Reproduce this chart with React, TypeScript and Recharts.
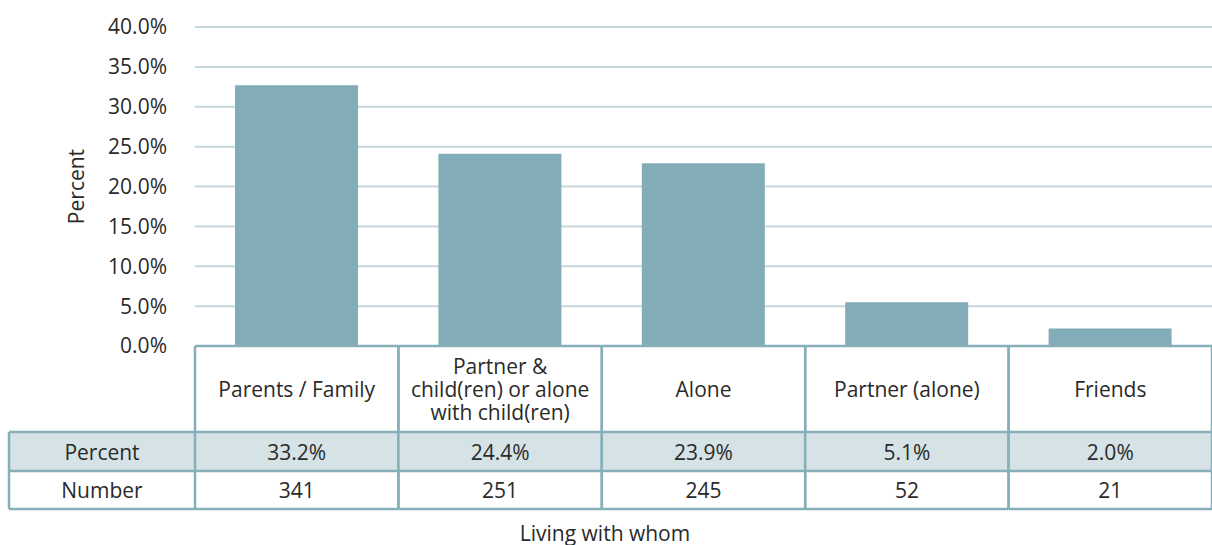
import React from 'react';
import { BarChart, Bar, XAxis, YAxis, CartesianGrid } from 'recharts';

const categories = ['Parents / Family', 'Partner &|child(ren) or alone|with child(ren)', 'Alone', 'Partner (alone)', 'Friends'];
const barValues = [32.7, 24.1, 22.9, 5.5, 2.2];
const percentLabels = ['33.2%', '24.4%', '23.9%', '5.1%', '2.0%'];
const numberLabels = ['341', '251', '245', '52', '21'];
const rowLabels = ['Percent', 'Number'];
const yTicks = [0, 5, 10, 15, 20, 25, 30, 35, 40];

const data = categories.map((c, i) => ({ name: c, value: barValues[i], idx: i }));

const W = 1212;
const H = 545;
const ML = 195;
const COL_W = (W - ML) / categories.length;
const ROW1 = 86;
const ROW2 = 39;
const ROW3 = 38;
const BORDER = '#86afba';
const SHADE = '#d5e2e6';
const TEXT = '#2a2a2a';
const FONT = '"Open Sans", sans-serif';
const FS = 21;

const TableTick = (props: any) => {
  const { x, y, payload } = props;
  const i = payload.index;
  const left = x - COL_W / 2;
  const right = x + COL_W / 2;
  const lines = String(payload.value).split('|');
  const r1c = y + ROW1 / 2;
  const lh = 23;
  return (
    <g>
      <rect x={left} y={y + ROW1} width={COL_W} height={ROW2} fill={SHADE} />
      <line x1={left} x2={right} y1={y} y2={y} stroke={BORDER} strokeWidth={2.5} />
      <line x1={left} x2={right} y1={y + ROW1} y2={y + ROW1} stroke={BORDER} strokeWidth={2.5} />
      <line x1={left} x2={right} y1={y + ROW1 + ROW2} y2={y + ROW1 + ROW2} stroke={BORDER} strokeWidth={2.5} />
      <line x1={left} x2={right} y1={y + ROW1 + ROW2 + ROW3} y2={y + ROW1 + ROW2 + ROW3} stroke={BORDER} strokeWidth={2.5} />
      <line x1={left} x2={left} y1={y} y2={y + ROW1 + ROW2 + ROW3} stroke={BORDER} strokeWidth={2.5} />
      <line x1={right} x2={right} y1={y} y2={y + ROW1 + ROW2 + ROW3} stroke={BORDER} strokeWidth={2.5} />
      {lines.map((t, k) => (
        <text key={k} x={x} y={r1c + (k - (lines.length - 1) / 2) * lh} textAnchor="middle" dominantBaseline="central" fontSize={FS} fill={TEXT} fontFamily={FONT}>
          {t}
        </text>
      ))}
      <text x={x} y={y + ROW1 + ROW2 / 2} textAnchor="middle" dominantBaseline="central" fontSize={FS} fill={TEXT} fontFamily={FONT}>
        {percentLabels[i]}
      </text>
      <text x={x} y={y + ROW1 + ROW2 + ROW3 / 2} textAnchor="middle" dominantBaseline="central" fontSize={FS} fill={TEXT} fontFamily={FONT}>
        {numberLabels[i]}
      </text>
    </g>
  );
};

const XLabel = (props: any) => {
  const { viewBox } = props;
  const y0 = viewBox.y;
  const left = 9;
  const right = viewBox.x;
  const cx = (left + right) / 2;
  return (
    <g>
      <rect x={left} y={y0 + ROW1} width={right - left} height={ROW2} fill={SHADE} />
      <line x1={left} x2={right} y1={y0 + ROW1} y2={y0 + ROW1} stroke={BORDER} strokeWidth={2.5} />
      <line x1={left} x2={right} y1={y0 + ROW1 + ROW2} y2={y0 + ROW1 + ROW2} stroke={BORDER} strokeWidth={2.5} />
      <line x1={left} x2={right} y1={y0 + ROW1 + ROW2 + ROW3} y2={y0 + ROW1 + ROW2 + ROW3} stroke={BORDER} strokeWidth={2.5} />
      <line x1={left} x2={left} y1={y0 + ROW1} y2={y0 + ROW1 + ROW2 + ROW3} stroke={BORDER} strokeWidth={2.5} />
      <text x={cx} y={y0 + ROW1 + ROW2 / 2} textAnchor="middle" dominantBaseline="central" fontSize={FS} fill={TEXT} fontFamily={FONT}>
        {rowLabels[0]}
      </text>
      <text x={cx} y={y0 + ROW1 + ROW2 + ROW3 / 2} textAnchor="middle" dominantBaseline="central" fontSize={FS} fill={TEXT} fontFamily={FONT}>
        {rowLabels[1]}
      </text>
      <text x={605} y={y0 + 187} textAnchor="middle" dominantBaseline="central" fontSize={FS} fill={TEXT} fontFamily={FONT}>
        Living with whom
      </text>
    </g>
  );
};

const YLabel = (props: any) => {
  const { viewBox } = props;
  const cx = 76;
  const cy = viewBox.y + viewBox.height / 2;
  return (
    <text x={cx} y={cy} transform={`rotate(-90 ${cx} ${cy})`} textAnchor="middle" dominantBaseline="central" fontSize={FS} fill={TEXT} fontFamily={FONT}>
      Percent
    </text>
  );
};

export default function App() {
  return (
    <div style={{ position: 'absolute', left: 0, top: 0, width: W, height: H, background: '#fff', fontFamily: FONT }}>
      <BarChart width={W} height={H} data={data} margin={{ top: 27, right: 0, bottom: 0, left: 75 }} barCategoryGap={0}>
        <CartesianGrid vertical={false} stroke="#c3d7dd" strokeWidth={2} />
        <YAxis
          width={120}
          domain={[0, 40]}
          ticks={yTicks}
          interval={0}
          tickFormatter={(v: number) => v.toFixed(1) + '%'}
          axisLine={false}
          tickLine={false}
          tickSize={0}
          tickMargin={28}
          tick={{ fontSize: FS, fill: TEXT, fontFamily: FONT }}
          label={<YLabel />}
        />
        <XAxis
          dataKey="name"
          height={199}
          interval={0}
          axisLine={false}
          tickLine={false}
          tickSize={0}
          tickMargin={0}
          tick={<TableTick />}
          label={<XLabel />}
        />
        <Bar dataKey="value" fill="#82adb8" barSize={123} isAnimationActive={false} />
      </BarChart>
    </div>
  );
}
